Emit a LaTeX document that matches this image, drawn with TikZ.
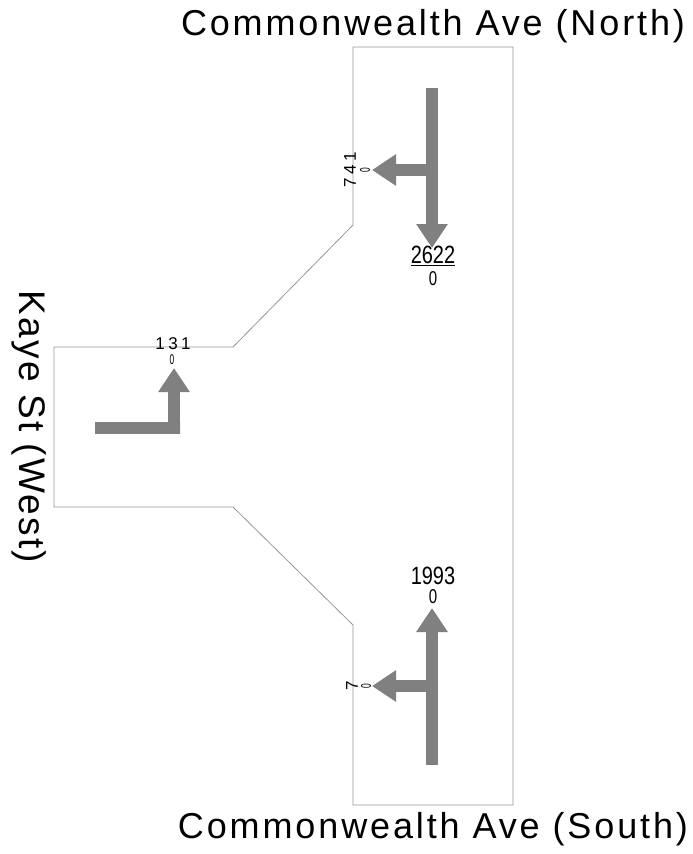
\documentclass[tikz,border=0pt]{standalone}
\usepackage{fontspec}
\setmainfont{Liberation Sans}
\usetikzlibrary{arrows.meta}
\definecolor{arr}{RGB}{128,128,128}
\definecolor{edge}{RGB}{150,150,150}
\begin{document}
\begin{tikzpicture}[x=1pt,y=-1pt,
  flow/.style={draw=arr,line width=12pt,miter limit=10,-{Triangle[width=30pt,length=24pt]}},
  big/.style={font=\fontsize{36}{36}\selectfont\addfontfeatures{LetterSpace=8},inner sep=0pt},
  bigw/.style={font=\fontsize{37}{37}\selectfont\addfontfeatures{LetterSpace=6},inner sep=0pt},
  num/.style={font=\fontsize{17}{17}\selectfont\addfontfeatures{LetterSpace=20},inner sep=0pt},
  vol/.style={font=\fontsize{25}{25}\selectfont,inner sep=0pt},
  zero/.style={font=\fontsize{20}{20}\selectfont,inner sep=0pt},
  zs/.style={font=\fontsize{14}{14}\selectfont,inner sep=0pt}]
\useasboundingbox (0,0) rectangle (693,854);
% road outline
\draw[edge,line width=0.8pt] (353,47) -- (513,47) -- (513,805) -- (353,805) -- (353,625)
  -- (233,507) -- (54,507) -- (54,347) -- (233,347) -- (353,225) -- cycle;
% titles
\node[big] (tn) at (433,26) {Commonwealth Ave (North)};
\node[big] (ts) at (433,829) {Commonwealth Ave (South)};
\node[bigw,rotate=-90] (tw) at (29,427) {Kaye St (West)};
% north
\coordinate (n0) at (432,88);
\coordinate (n1) at (432,170);
\coordinate (n2) at (432,248);
\coordinate (n3) at (372,170);
\draw[flow] (n0) -- (n2);
\draw[flow] (n1) -- (n3);
\node[num,rotate=90] (nl) at (350,170) {741};
\node[zs,rotate=90] (nl0) at (365,170) {\scalebox{0.6}[1]{0}};
\node[vol] (nt) at (433,256) {\scalebox{0.8}[1]{\underline{2622}}};
\node[zero] (nt0) at (433,279) {\scalebox{0.75}[1]{0}};
% west
\coordinate (w0) at (95,428);
\coordinate (w1) at (174,428);
\coordinate (w2) at (174,368);
\draw[flow] (w0) -- ([xshift=6pt]w1) -- (w1) -- (w2);
\node[num] (wl) at (173,344) {131};
\node[zs] (wl0) at (172,360) {\scalebox{0.6}[1]{0}};
% south
\coordinate (s0) at (432,765);
\coordinate (s1) at (432,686);
\coordinate (s2) at (432,608);
\coordinate (s3) at (372,686);
\draw[flow] (s0) -- (s2);
\draw[flow] (s1) -- (s3);
\node[vol] (st) at (433,576) {\scalebox{0.8}[1]{1993}};
\node[zero] (st0) at (433,597) {\scalebox{0.75}[1]{0}};
\node[num,rotate=90] (sl) at (352,686) {7};
\node[zs,rotate=90] (sl0) at (366,686) {\scalebox{0.6}[1]{0}};
\end{tikzpicture}
\end{document}
